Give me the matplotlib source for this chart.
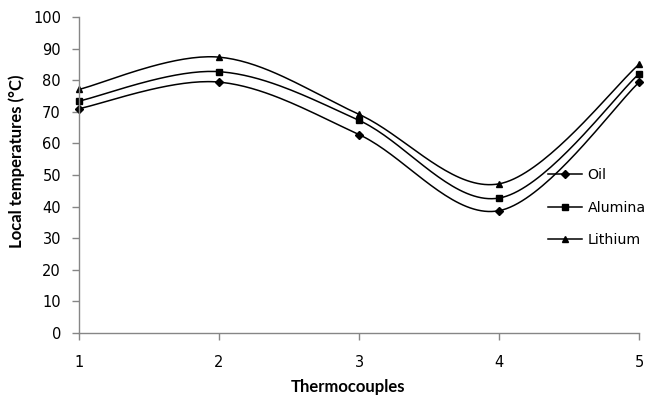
import numpy as np
import matplotlib
matplotlib.use('Agg')
import matplotlib.pyplot as plt

plt.rcParams['font.family'] = ['DejaVu Sans']

# data
thermocouples = [1, 2, 3, 4, 5]
oil = [71.0, 79.4, 62.8, 38.7, 79.3]
alumina = [73.4, 82.7, 67.3, 42.7, 82.0]
lithium = [77.1, 87.3, 69.2, 47.2, 85.0]


def smooth(x, y, n=40):
    # Excel-style smoothed line: cubic Bezier with Catmull-Rom control points
    x = np.asarray(x, float)
    y = np.asarray(y, float)
    px = np.concatenate([[x[0]], x, [x[-1]]])
    py = np.concatenate([[y[0]], y, [y[-1]]])
    xs, ys = [], []
    t = np.linspace(0, 1, n)
    for i in range(1, len(x)):
        p0 = np.array([px[i], py[i]])
        p3 = np.array([px[i + 1], py[i + 1]])
        c1 = p0 + (np.array([px[i + 1], py[i + 1]]) - np.array([px[i - 1], py[i - 1]])) / 6
        c2 = p3 - (np.array([px[i + 2], py[i + 2]]) - np.array([px[i], py[i]])) / 6
        pts = ((1 - t) ** 3)[:, None] * p0 + (3 * (1 - t) ** 2 * t)[:, None] * c1 \
            + (3 * (1 - t) * t ** 2)[:, None] * c2 + (t ** 3)[:, None] * p3
        xs.extend(pts[:, 0])
        ys.extend(pts[:, 1])
    return np.array(xs), np.array(ys)


fig = plt.figure(figsize=(6.49, 4.0), dpi=100)
ax = fig.add_axes([79 / 649, 0.1675, 560 / 649, 0.79])

series = [('Oil', oil, 'D', 4), ('Alumina', alumina, 's', 4.5), ('Lithium', lithium, '^', 5)]
for name, vals, mk, ms in series:
    sx, sy = smooth(thermocouples, vals)
    ax.plot(sx, sy, '-', color='black', linewidth=1.1, clip_on=False)
    ax.plot(thermocouples, vals, linestyle='none', marker=mk, markersize=ms, color='black', clip_on=False)
    # legend proxy
    ax.plot([], [], '-', color='black', linewidth=1.1, marker=mk, markersize=ms, label=name)

ax.set_xlim(1, 5)
ax.set_ylim(0, 100)
ax.set_xticks(thermocouples)
ax.set_yticks(range(0, 101, 10))

for side in ['top', 'right']:
    ax.spines[side].set_visible(False)
for side in ['left', 'bottom']:
    ax.spines[side].set_color('#868686')
    ax.spines[side].set_linewidth(1.0)
ax.tick_params(axis='both', colors='#868686', labelcolor='black', labelsize=10.5, length=5, width=1.0)
ax.tick_params(axis='y', pad=8)
ax.tick_params(axis='x', pad=11)

lab_font = dict(family=['Lato', 'DejaVu Sans'], fontsize=12, fontweight='bold')
ax.set_xlabel('Thermocouples', **lab_font)
ax.set_ylabel('Local temperatures (°C)', **lab_font)
ax.xaxis.set_label_coords(0.48, -0.145)
ax.yaxis.set_label_coords(-0.097, 0.545)

ax.legend(loc='center left', bbox_to_anchor=(462 / 560, 0.396), frameon=False, fontsize=10.2,
          borderpad=0, labelspacing=1.3, handlelength=2.4, handletextpad=0.4)

plt.savefig('out.png', dpi=100)
